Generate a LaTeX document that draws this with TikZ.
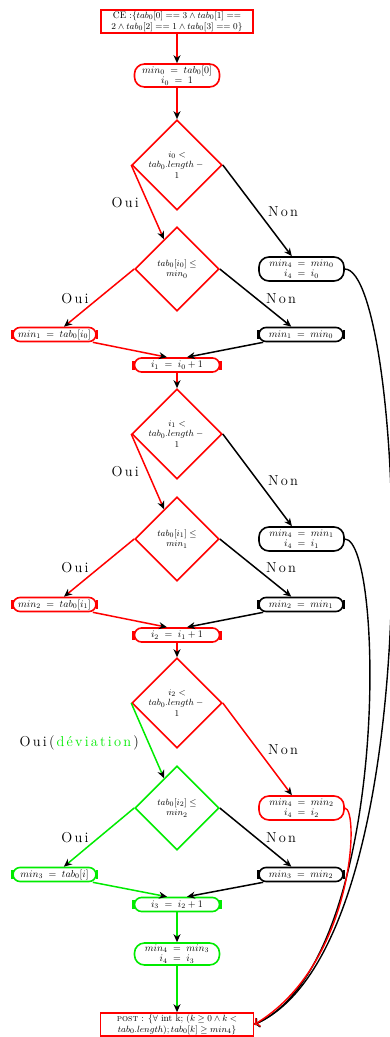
\documentclass[tikz,border=0pt]{standalone}
\usepackage{fontspec}
\usetikzlibrary{arrows.meta,shapes.geometric,calc}
\definecolor{cred}{RGB}{255,0,0}
\definecolor{cgreen}{RGB}{0,235,0}
\newcommand\lsp{2.2pt}
\newcommand\OuiT{O\kern\lsp u\kern\lsp i}
\newcommand\NonT{N\kern\lsp o\kern\lsp n}
\begin{document}
\begin{tikzpicture}[x=1pt,y=-1pt,
  every node/.style={font=\fontsize{10}{10.5}\selectfont},
  cond/.style={draw=cred, rectangle, line width=1.6pt, minimum width=152pt, minimum height=23pt, inner sep=0pt, align=center, font=\fontsize{9.5}{11}\selectfont},
  bigr/.style={draw=#1, rounded corners=10pt, minimum width=85pt, minimum height=23pt, line width=1.6pt, inner sep=0pt, align=center},
  smallr/.style={draw=#1, rounded corners=7pt, minimum width=84pt, minimum height=14pt, line width=1.6pt, inner sep=0pt},
  dec/.style={draw=#1, diamond, aspect=1, inner sep=0pt, line width=1.6pt},
  dtext/.style={align=center, inner sep=0pt, font=\fontsize{9.5}{10.5}\selectfont},
  conn/.style={line width=1.5pt, -{Stealth[length=8pt,width=7pt,inset=2.5pt,color=black]}},
  curve/.style={line width=1.4pt, -{To[length=5pt,width=10pt]}},
  lab/.style={font=\fontsize{14.4}{16}\selectfont, inner sep=0pt}
]
\useasboundingbox (0,0) rectangle (390,1037);

% ---- nodes ----
\node[cond] (ce) at (177,21.5) {CE :$\{tab_0[0] == 3 \land tab_0[1] ==$\\$2 \land tab_0[2] == 1 \land tab_0[3] == 0\}$};
\node[bigr=cred] (m0) at (177,75.5) {$min_0\;=\;tab_0[0]$\\$i_0\;=\;1$};

\node[dec=cred, minimum width=90pt, minimum height=90pt] (d1) at (177,165) {};
\node[dtext] (t1) at (d1) {$i_0 <$\\$tab_0.length -{}$\\$1$};
\node[dec=cred, minimum width=84pt, minimum height=84pt] (d2) at (177,269) {};
\node[dtext] (t2) at (d2) {$tab_0[i_0] \leq$\\$min_0$};
\node[bigr=black, minimum height=24pt] (m4a) at (301.5,269) {$min_4\;=\;min_0$\\$i_4\;=\;i_0$};
\node[smallr=cred, minimum width=83pt] (m1L) at (54.5,334.5) {$min_1\;=\;tab_0[i_0]$};
\node[smallr=black] (m1R) at (301,334.5) {$min_1\;=\;min_0$};
\node[smallr=cred, minimum width=85pt] (i1) at (177,365) {$i_1\;=\;i_0+1$};

\node[dec=cred, minimum width=90pt, minimum height=90pt] (d3) at (177,434) {};
\node[dtext] (t3) at (d3) {$i_1 <$\\$tab_0.length -{}$\\$1$};
\node[dec=cred, minimum width=84pt, minimum height=84pt] (d4) at (177,539) {};
\node[dtext] (t4) at (d4) {$tab_0[i_1] \leq$\\$min_1$};
\node[bigr=black, minimum height=24pt] (m4b) at (301.5,539) {$min_4\;=\;min_1$\\$i_4\;=\;i_1$};
\node[smallr=cred, minimum width=83pt] (m2L) at (54.5,604.5) {$min_2\;=\;tab_0[i_1]$};
\node[smallr=black] (m2R) at (301,604.5) {$min_2\;=\;min_1$};
\node[smallr=cred, minimum width=85pt] (i2) at (177,635) {$i_2\;=\;i_1+1$};

\node[dec=cred, minimum width=90pt, minimum height=90pt] (d5) at (177,703) {};
\node[dtext] (t5) at (d5) {$i_2 <$\\$tab_0.length -{}$\\$1$};
\node[dec=cgreen, minimum width=84pt, minimum height=84pt] (d6) at (177,808) {};
\node[dtext] (t6) at (d6) {$tab_0[i_2] \leq$\\$min_2$};
\node[bigr=cred, minimum height=24pt] (m4c) at (301.5,808) {$min_4\;=\;min_2$\\$i_4\;=\;i_2$};
\node[smallr=cgreen, minimum width=83pt] (m3L) at (54.5,874.5) {$min_3\;=\;tab_0[i]$};
\node[smallr=black] (m3R) at (301,874.5) {$min_3\;=\;min_2$};
\node[smallr=cgreen, minimum width=85pt] (i3) at (177,904.5) {$i_3\;=\;i_2+1$};
\node[bigr=cgreen, minimum height=22pt] (m4d) at (177,954) {$min_4\;=\;min_3$\\$i_4\;=\;i_3$};

\node[cond, minimum width=153pt] (post) at (177,1024.5) {\textsc{post} : $\{\forall$ int k; $(k \geq 0 \land k <$\\$tab_0.length); tab_0[k] \geq min_4\}$};

% ---- bars on the small nodes ----
\foreach \n/\c in {m1L/cred,m1R/black,i1/cred,m2L/cred,m2R/black,i2/cred,m3L/cgreen,m3R/black,i3/cgreen}{
  \draw[\c, line width=2.6pt] ([yshift=-4.5pt]\n.west) -- ([yshift=4.5pt]\n.west);
  \draw[\c, line width=2.6pt] ([yshift=-4.5pt]\n.east) -- ([yshift=4.5pt]\n.east);
}

% ---- labels ----
\node[lab, anchor=east] (o1) at (139,203) {\OuiT};
\node[lab] (n1) at (283,212) {\NonT};
\node[lab] (o2) at (75,299) {\OuiT};
\node[lab] (n2) at (281,299) {\NonT};
\node[lab, anchor=east] (o3) at (139,472) {\OuiT};
\node[lab] (n3) at (283,481) {\NonT};
\node[lab] (o4) at (75,568) {\OuiT};
\node[lab] (n4) at (281,568) {\NonT};
\node[lab, anchor=base east] (o5) at (139,746) {\OuiT\kern\lsp(\kern\lsp\textcolor{cgreen}{d\kern\lsp é\kern\lsp v\kern\lsp i\kern\lsp a\kern\lsp t\kern\lsp i\kern\lsp o\kern\lsp n}\kern\lsp)};
\node[lab] (n5) at (283,750) {\NonT};
\node[lab] (o6) at (75,838) {\OuiT};
\node[lab] (n6) at (281,838) {\NonT};

% ---- connectors ----
\draw[conn,cred] (ce.south) -- (m0.north);
\draw[conn,cred] (m0.south) -- (d1.north);
\draw[conn,cred] (d1.west) -- (d2);
\draw[conn] (d1.east) -- (m4a);
\draw[conn,cred] (d2.west) -- (m1L);
\draw[conn] (d2.east) -- (m1R);
\draw[conn,cred] ([xshift=-4pt]m1L.south east) -- ([xshift=-10pt]i1.north);
\draw[conn] ([xshift=5pt]m1R.south west) -- ([xshift=10pt]i1.north);
\draw[conn,cred] (i1.south) -- (d3.north);

\draw[conn,cred] (d3.west) -- (d4);
\draw[conn] (d3.east) -- (m4b);
\draw[conn,cred] (d4.west) -- (m2L);
\draw[conn] (d4.east) -- (m2R);
\draw[conn,cred] ([xshift=-4pt]m2L.south east) -- ([xshift=-10pt]i2.north);
\draw[conn] ([xshift=5pt]m2R.south west) -- ([xshift=10pt]i2.north);
\draw[conn,cred] (i2.south) -- (d5.north);

\draw[conn,cgreen] (d5.west) -- (d6);
\draw[conn,cred] (d5.east) -- (m4c);
\draw[conn,cgreen] (d6.west) -- (m3L);
\draw[conn] (d6.east) -- (m3R);
\draw[conn,cgreen] ([xshift=-4pt]m3L.south east) -- ([xshift=-10pt]i3.north);
\draw[conn] ([xshift=5pt]m3R.south west) -- ([xshift=10pt]i3.north);
\draw[conn,cgreen] (i3.south) -- (m4d.north);
\draw[conn,cgreen] (m4d.south) -- (post.north);

% ---- return curves ----
\draw[curve] (m4a.east) .. controls +(60,0) and +(183,-81) .. (post.east);
\draw[curve] (m4b.east) .. controls +(40,0) and +(137,-61) .. (post.east);
\draw[curve,cred] (m4c.east) .. controls +(15,0) and +(100,-60) .. (post.east);
\end{tikzpicture}
\end{document}
